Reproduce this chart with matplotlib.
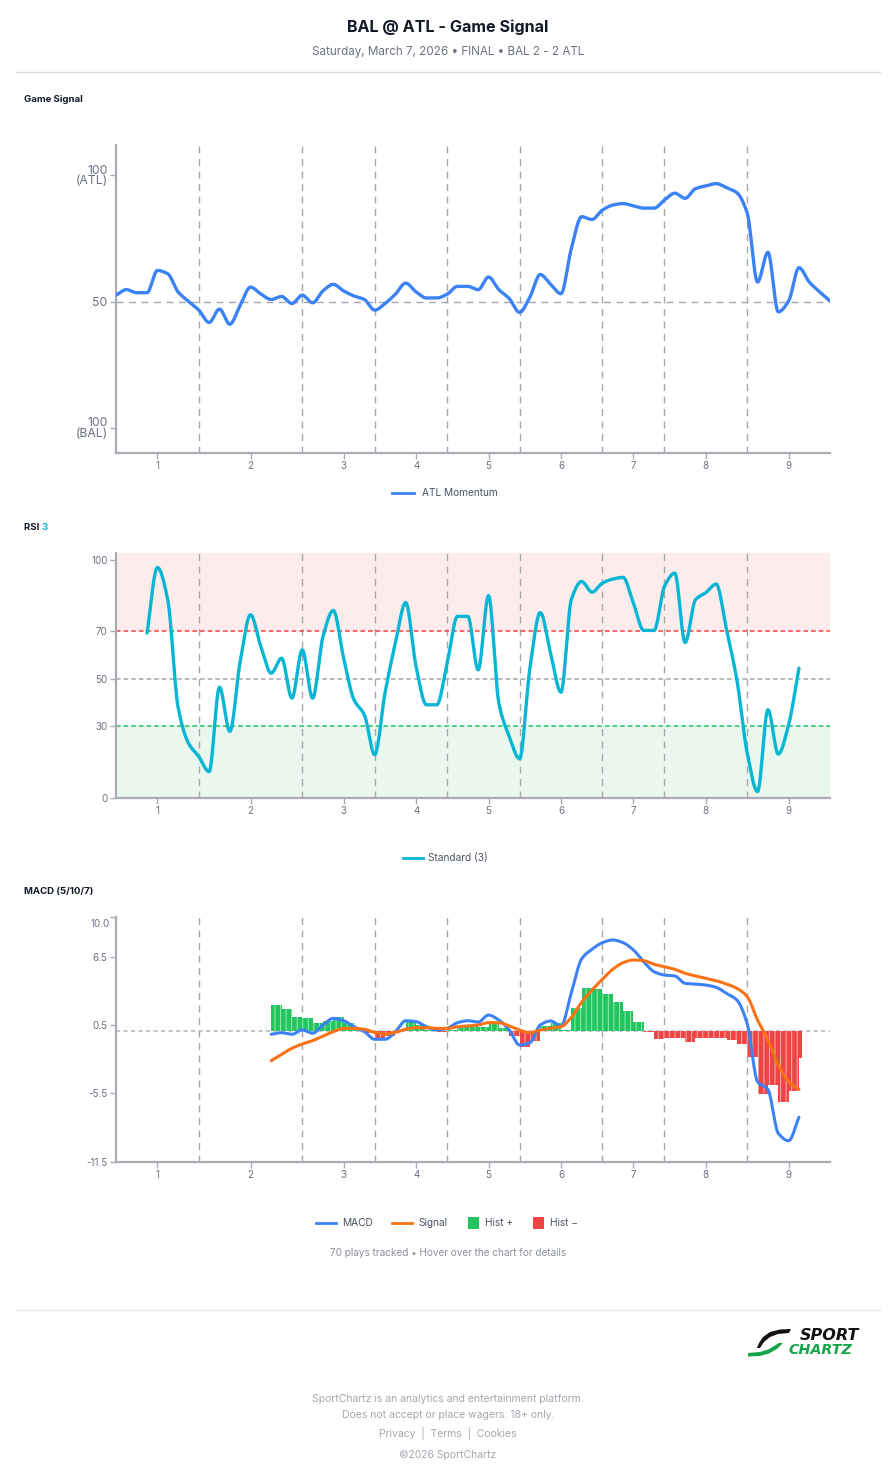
import numpy as np
import matplotlib
matplotlib.use("Agg")
import matplotlib.pyplot as plt
from matplotlib.lines import Line2D
from matplotlib.patches import Rectangle, Polygon

plt.rcParams['font.family'] = ['Inter', 'DejaVu Sans']
plt.rcParams['hatch.linewidth'] = 0.7

# ---------------- DATA ----------------
inning_labels = ["1", "2", "3", "4", "5", "6", "7", "8", "9"]
inning_ticks = [4, 13, 22, 29, 36, 43, 50, 57, 65]
inning_bounds = [8, 18, 25, 32, 39, 47, 53, 61]

signal_x = list(range(0, 70))
signal_vals = [52.5, 54.7, 53.5, 53.5, 62.3, 61.0, 53.8, 50.1, 46.6, 41.7,
               47.0, 41.0, 48.5, 55.7, 53.0, 50.8, 52.0, 49.2, 52.5, 49.5,
               54.2, 56.8, 54.2, 52.2, 50.8, 46.6, 49.2, 52.9, 57.3, 53.8,
               51.4, 51.4, 52.9, 56.0, 56.0, 54.7, 59.7, 54.7, 51.2, 45.7,
               51.8, 60.7, 56.8, 53.1, 70.9, 83.6, 82.5, 86.2, 88.2, 88.8,
               87.9, 87.0, 87.0, 90.2, 92.9, 90.9, 94.7, 95.8, 96.7, 95.1,
               93.1, 85.0, 57.7, 69.5, 45.9, 50.2, 63.4, 57.7, 53.8, 50.2]

rsi_x = list(range(3, 67))
rsi_vals = [69.2, 96.8, 83.2, 38.0, 22.9, 17.2, 10.9, 46.4, 27.8, 57.2,
            76.9, 63.5, 52.3, 58.6, 41.8, 62.1, 41.8, 67.7, 78.7, 58.6,
            41.1, 34.8, 18.0, 44.0, 65.0, 82.0, 55.1, 39.0, 39.0, 56.5,
            76.2, 76.2, 53.7, 84.9, 39.7, 25.7, 16.3, 54.4, 77.8, 60.7,
            44.3, 83.2, 90.9, 86.4, 90.2, 91.9, 92.6, 81.8, 70.3, 70.3,
            88.8, 94.4, 65.2, 83.2, 86.2, 89.8, 70.6, 49.5, 18.7, 2.5,
            36.9, 18.3, 30.6, 54.4]

macd_x = list(range(15, 67))
macd_vals = [-0.32, -0.18, -0.32, 0.06, -0.23, 0.50, 1.08, 0.87, 0.35, -0.09,
             -0.76, -0.76, -0.09, 0.87, 0.79, 0.35, 0.06, 0.20, 0.70, 0.87,
             0.75, 1.37, 0.93, 0.06, -1.26, -1.06, 0.50, 0.85, 0.41, 3.30,
             6.30, 7.14, 7.72, 7.96, 7.72, 7.08, 6.05, 5.17, 4.88, 4.80,
             4.15, 4.09, 4.00, 3.80, 3.27, 2.69, 0.60, -4.48, -5.15, -9.00,
             -9.66, -7.60]
signal_line_vals = [-2.64, -2.08, -1.55, -1.17, -0.88, -0.47, -0.09, 0.20, 0.20, 0.12,
                    -0.15, -0.29, -0.15, 0.12, 0.26, 0.26, 0.20, 0.20, 0.35, 0.41,
                    0.50, 0.70, 0.70, 0.41, 0.06, -0.18, 0.06, 0.20, 0.35, 1.15,
                    2.50, 3.57, 4.50, 5.38, 5.96, 6.20, 6.14, 5.82, 5.61, 5.38,
                    5.03, 4.80, 4.59, 4.38, 4.09, 3.72, 2.98, 0.93, -0.82, -3.01,
                    -4.48, -5.15]
hist_vals = [2.22, 1.87, 1.22, 1.14, 0.64, 0.87, 1.17, 0.67, 0.15, -0.21,
             -0.61, -0.47, 0.06, 0.75, 0.53, 0.09, -0.14, 0.02, 0.35, 0.46,
             0.29, 0.67, 0.23, -0.45, -1.40, -0.90, 0.44, 0.65, 0.06, 1.96,
             3.71, 3.63, 3.19, 2.54, 1.72, 0.73, -0.09, -0.76, -0.66, -0.62,
             -0.97, -0.66, -0.62, -0.62, -0.80, -1.20, -2.29, -5.59, -4.77, -6.29,
             -5.30, -2.37]

# ---------------- STYLE ----------------
BLUE = '#3b82f6'
CYAN = '#06b6d4'
ORANGE = '#f97316'
GREEN = '#22c55e'
RED = '#ef4444'
GRID = '#a4a7ae'
SPINE = '#a9acb4'
TICKTXT = '#6b7280'
DARK = '#111827'
LEG = '#4b5563'

W, H = 896, 1480
fig = plt.figure(figsize=(W / 100, H / 100), dpi=100)
fig.patch.set_facecolor('white')


def fx(px):
    return px / W


def fy(py):
    return 1 - py / H


def monotone(x, y, n=24):
    """Monotone cubic (Fritsch-Carlson) rendering of a polyline."""
    x = np.asarray(x, float)
    y = np.asarray(y, float)
    h = np.diff(x)
    d = np.diff(y) / h
    m = np.zeros_like(y)
    m[0] = d[0]
    m[-1] = d[-1]
    for i in range(1, len(y) - 1):
        if d[i - 1] * d[i] <= 0:
            m[i] = 0.0
        else:
            w1 = 2 * h[i] + h[i - 1]
            w2 = h[i] + 2 * h[i - 1]
            m[i] = (w1 + w2) / (w1 / d[i - 1] + w2 / d[i])
    xs, ys = [], []
    t = np.linspace(0, 1, n, endpoint=False)
    h00 = 2 * t**3 - 3 * t**2 + 1
    h10 = t**3 - 2 * t**2 + t
    h01 = -2 * t**3 + 3 * t**2
    h11 = t**3 - t**2
    for i in range(len(x) - 1):
        xs.append(x[i] + t * h[i])
        ys.append(h00 * y[i] + h10 * h[i] * m[i] + h01 * y[i + 1] + h11 * h[i] * m[i + 1])
    xs.append([x[-1]])
    ys.append([y[-1]])
    return np.concatenate(xs), np.concatenate(ys)


def make_axes(top, bottom):
    ax = fig.add_axes([fx(116), fy(bottom), fx(830) - fx(116), (bottom - top) / H])
    for s in ['top', 'right']:
        ax.spines[s].set_visible(False)
    for s in ['left', 'bottom']:
        ax.spines[s].set_color(SPINE)
        ax.spines[s].set_linewidth(1.6)
    ax.tick_params(axis='both', colors=SPINE, labelcolor=TICKTXT, length=4, width=1,
                   labelsize=7, pad=2)
    ax.set_xlim(0, 69)
    ax.set_xticks(inning_ticks)
    ax.set_xticklabels(inning_labels)
    for b in inning_bounds:
        ax.axvline(b, color=GRID, lw=1, ls=(0, (5, 4)), zorder=1)
    return ax


# ---------------- HEADER ----------------
fig.text(0.5, fy(27), "BAL @ ATL - Game Signal", ha='center', va='center',
         fontsize=11.6, fontweight='bold', color=DARK)
fig.text(0.5, fy(52), "Saturday, March 7, 2026 \u2022 FINAL \u2022 BAL 2 - 2 ATL", ha='center',
         va='center', fontsize=8.4, color='#6b7280')
fig.add_artist(Line2D([fx(16), fx(880)], [fy(72), fy(72)], color='#dcdde3', lw=1))

# ---------------- GAME SIGNAL ----------------
fig.text(fx(24), fy(99), "Game Signal", ha='left', va='center', fontsize=6.9,
         fontweight='bold', color=DARK)
ax1 = make_axes(145, 453)
ax1.set_ylim(-10, 112)
ax1.set_yticks([0, 50, 100])
ax1.set_yticklabels(["100\n(BAL)", "50", "100\n(ATL)"], fontsize=8.8, linespacing=0.85,
                    multialignment='right')
ax1.axhline(50, color=GRID, lw=1, ls=(0, (5, 4)), zorder=1)
sx, sy = monotone(signal_x, signal_vals)
ax1.plot(sx, sy, color=BLUE, lw=2.4, solid_capstyle='round', zorder=3)

fig.add_artist(Line2D([fx(392), fx(414)], [fy(493), fy(493)], color=BLUE, lw=2))
fig.text(fx(422), fy(493), "ATL Momentum", ha='left', va='center', fontsize=7.3, color=LEG)

# ---------------- RSI ----------------
t_rsi = fig.text(fx(24), fy(527), "RSI ", ha='left', va='center', fontsize=6.9,
                 fontweight='bold', color=DARK)
fig.canvas.draw()
bb = t_rsi.get_window_extent()
fig.text(bb.x1 / W, fy(527), "3", ha='left', va='center', fontsize=6.9,
         fontweight='bold', color=CYAN)

ax2 = make_axes(552.7, 797.5)
ax2.set_ylim(0, 103)
ax2.set_yticks([0, 30, 50, 70, 100])
ax2.set_yticklabels(["0", "30", "50", "70", "100"])
ax2.axhspan(70, 103, color='#fdecec', zorder=0, lw=0)
ax2.axhspan(0, 30, color='#e9f7ef', zorder=0, lw=0)
ax2.axhline(70, color='#f43f3f', lw=1.1, ls=(0, (3, 2)), zorder=2)
ax2.axhline(50, color=GRID, lw=1.1, ls=(0, (3, 2)), zorder=2)
ax2.axhline(30, color='#1fc35a', lw=1.1, ls=(0, (3, 2)), zorder=2)
rx, ry = monotone(rsi_x, rsi_vals)
ax2.plot(rx, ry, color=CYAN, lw=2.4, solid_capstyle='round', zorder=3)

fig.add_artist(Line2D([fx(403), fx(423)], [fy(858), fy(858)], color=CYAN, lw=2))
fig.text(fx(428), fy(858), "Standard (3)", ha='left', va='center', fontsize=7.3, color=LEG)

# ---------------- MACD ----------------
fig.text(fx(24), fy(892), "MACD (5/10/7)", ha='left', va='center', fontsize=6.9,
         fontweight='bold', color=DARK)
ax3 = make_axes(916.7, 1161.7)
ax3.set_ylim(-11.5, 10)
ax3.set_yticks([-11.5, -5.5, 0.5, 6.5, 10.0])
ax3.set_yticklabels(["-11.5", "-5.5", "0.5", "6.5", ""])
ax3.annotate("10.0", xy=(0, 10), xycoords=('axes fraction', 'data'), xytext=(-4.3, -5),
             textcoords='offset points', ha='right', va='center', fontsize=7, color=TICKTXT)
ax3.axhline(0, color='#b8bcc4', lw=1.2, ls=(0, (2.5, 2)), zorder=1)

hist = np.array(hist_vals)
widths = [1.0] * (len(macd_x) - 1) + [0.3]
face = [GREEN if v >= 0 else RED for v in hist]
edge = ['#9be8b6' if v >= 0 else '#f9b0b0' for v in hist]
ax3.bar(macd_x, hist, width=widths, align='edge', color=face, edgecolor=edge,
        linewidth=0, hatch='|||', zorder=2)

mx, my = monotone(macd_x, macd_vals)
ax3.plot(mx, my, color=BLUE, lw=2.2, solid_capstyle='round', zorder=4)
gx, gy = monotone(macd_x, signal_line_vals)
ax3.plot(gx, gy, color=ORANGE, lw=2.2, solid_capstyle='round', zorder=5)

ly = fy(1223)
fig.add_artist(Line2D([fx(316), fx(336)], [ly, ly], color=BLUE, lw=2))
fig.text(fx(342), ly, "MACD", ha='left', va='center', fontsize=7.3, color=LEG)
fig.add_artist(Line2D([fx(392), fx(412)], [ly, ly], color=ORANGE, lw=2))
fig.text(fx(418), ly, "Signal", ha='left', va='center', fontsize=7.3, color=LEG)
fig.add_artist(Rectangle((fx(468), fy(1229)), fx(11), 12 / H, color=GREEN, lw=0))
fig.text(fx(485), ly, "Hist +", ha='left', va='center', fontsize=7.3, color=LEG)
fig.add_artist(Rectangle((fx(533), fy(1229)), fx(11), 12 / H, color=RED, lw=0))
fig.text(fx(550), ly, "Hist \u2212", ha='left', va='center', fontsize=7.3, color=LEG)

fig.text(0.5, fy(1253), "70 plays tracked \u2022 Hover over the chart for details", ha='center',
         va='center', fontsize=7.2, color='#8b909a')

# ---------------- FOOTER ----------------
fig.add_artist(Line2D([fx(16), fx(880)], [fy(1310), fy(1310)], color='#e5e7eb', lw=1))

# logo swoosh (black blade and green base)
black_pts = [(791, 1329), (780, 1329.5), (770, 1332), (763, 1337), (759, 1343), (757, 1348),
             (760, 1348), (764, 1342), (770, 1337), (778, 1334), (789, 1333)]
fig.add_artist(Polygon([(fx(a), fy(b)) for a, b in black_pts], closed=True,
                       facecolor='#111111', edgecolor='none', transform=fig.transFigure))
green_pts = [(748, 1353), (760, 1352), (768, 1349.5), (775, 1345.5), (779, 1343),
             (783, 1343), (777, 1349), (769, 1353.5), (760, 1356), (748, 1356.5)]
fig.add_artist(Polygon([(fx(a), fy(b)) for a, b in green_pts], closed=True,
                       facecolor='#16a34a', edgecolor='none', transform=fig.transFigure))
fig.text(fx(859), fy(1336), "SPORT", ha='right', va='center', fontsize=11.5,
         fontweight='bold', fontstyle='italic', color='#111111', family=['DejaVu Sans'])
fig.text(fx(852), fy(1349.5), "CHARTZ", ha='right', va='center', fontsize=10.3,
         fontweight='semibold', fontstyle='italic', color='#16a34a', family=['DejaVu Sans'])

fc = '#a3a7b0'
fig.text(0.5, fy(1399), "SportChartz is an analytics and entertainment platform.", ha='center',
         va='center', fontsize=7.5, color=fc)
fig.text(0.5, fy(1415), "Does not accept or place wagers. 18+ only.", ha='center',
         va='center', fontsize=7.5, color=fc)
fig.text(0.5, fy(1434), "Privacy  |  Terms  |  Cookies", ha='center', va='center',
         fontsize=7.5, color=fc)
fig.text(0.5, fy(1455), "\u00a92026 SportChartz", ha='center', va='center',
         fontsize=7.5, color=fc)

fig.savefig("out.png", dpi=100, facecolor='white')
